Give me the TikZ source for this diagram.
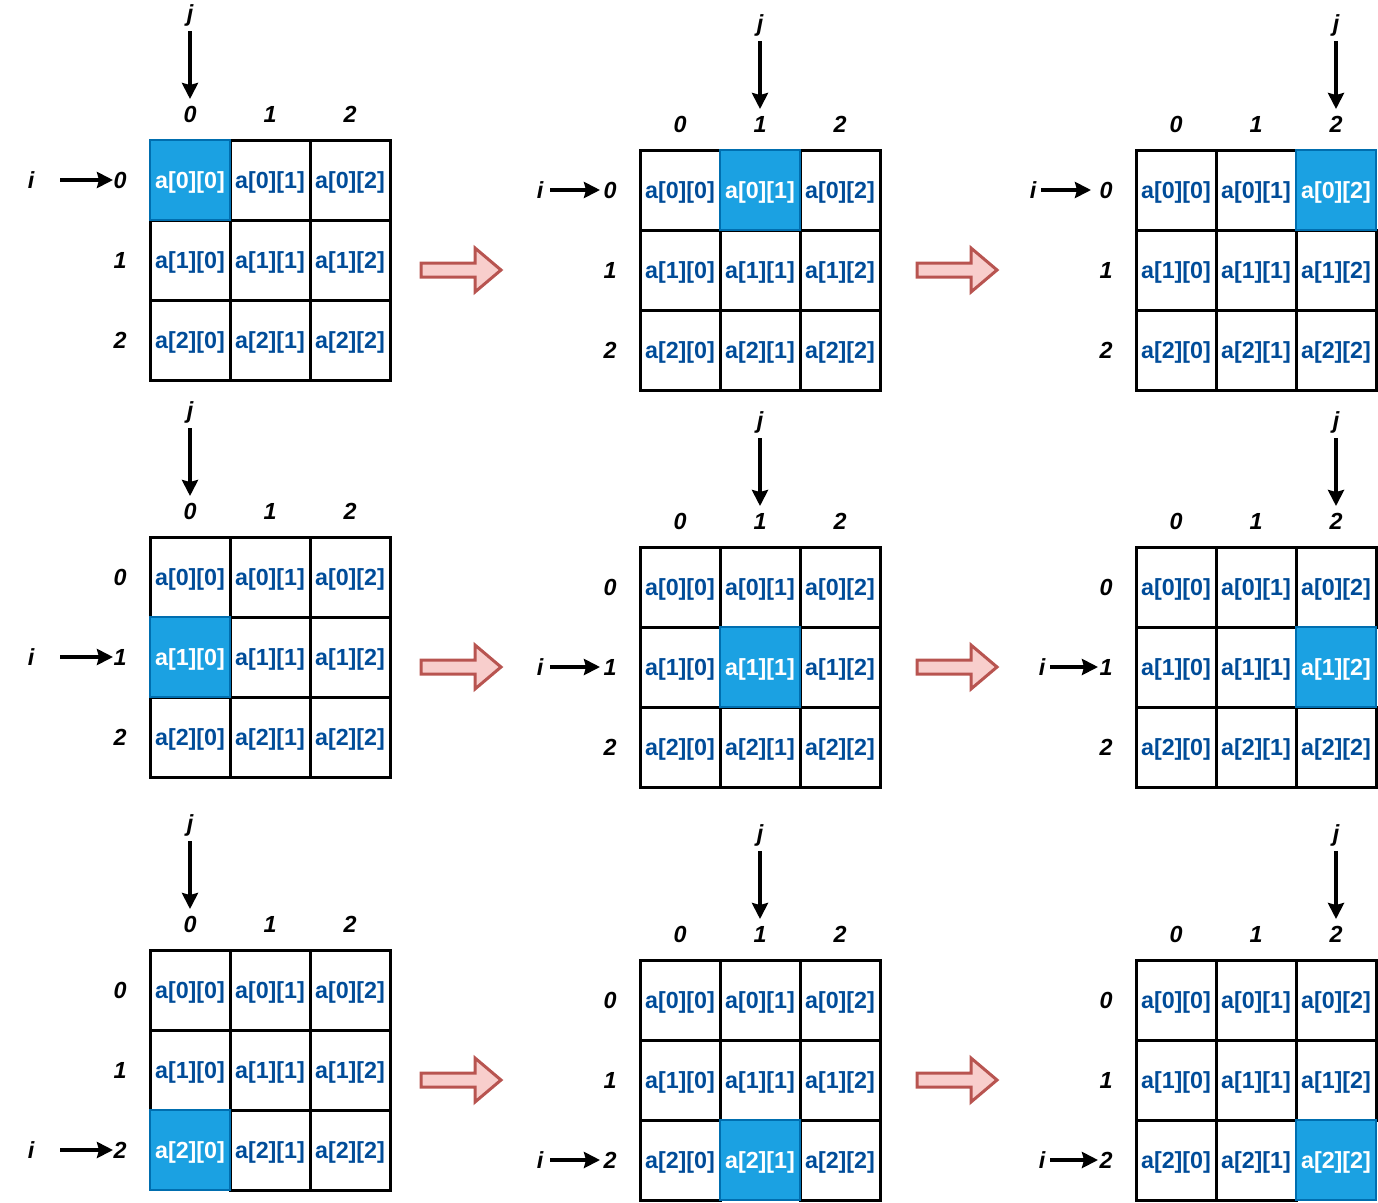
\documentclass[tikz,border=0pt]{standalone}
\usepackage{fontspec}
\setmainfont{Liberation Sans}
\usepackage{tikz}
\usetikzlibrary{arrows.meta}
\definecolor{cellblue}{HTML}{1BA1E2}
\definecolor{celledge}{HTML}{006EAF}
\definecolor{txtblue}{HTML}{004C99}
\definecolor{flowfill}{HTML}{F8CECC}
\definecolor{flowdraw}{HTML}{B85450}
\tikzset{
  cell/.style={draw, line width=3pt, minimum size=80pt, inner sep=0pt, text=txtblue,
    text depth=0pt, font=\fontsize{23.3}{28}\selectfont\bfseries},
  active/.style={fill=cellblue, draw=celledge, line width=1.5pt, text=white},
  idx/.style={inner sep=0pt, font=\fontsize{23.3}{28}\selectfont\bfseries\itshape},
  ptr/.style={line width=3.5pt, -{Stealth[length=16pt, width=16pt, inset=2pt]}},
  flow/.pic={\draw[line width=3pt, draw=flowdraw, fill=flowfill]
    (0,-7) -- (54,-7) -- (54,-22) -- (80,0) -- (54,22) -- (54,7) -- (0,7) -- cycle;}
}
\begin{document}
\begin{tikzpicture}[x=1pt, y=-1pt]
  \useasboundingbox (0,0) rectangle (1378,1202);
  \foreach \g/\gx/\gy/\ai/\aj/\io/\ss/\se in {
      1/150/140/0/0/119/29/7, 2/640/150/0/1/100/10/10, 3/1136/150/0/2/103/8/15,
      4/150/537/1/0/119/29/7, 5/640/547/1/1/100/10/10, 6/1136/547/1/2/94/8/8,
      7/150/950/2/0/119/29/7, 8/640/960/2/1/100/10/10, 9/1136/960/2/2/94/8/8} {
    \foreach \r in {0,1,2} \foreach \c in {0,1,2} {
      \ifnum\numexpr3*\r+\c\relax=\numexpr3*\ai+\aj\relax\else
        \node[cell] (g\g-\r\c) at (\gx+40+80*\c, \gy+40+80*\r) {a[\r][\c]};
      \fi
    }
    \node[cell, active] (g\g-\ai\aj) at (\gx+40+80*\aj, \gy+40+80*\ai) {a[\ai][\aj]};
    \foreach \k in {0,1,2} {
      \node[idx] (g\g-c\k) at (\gx+40+80*\k, \gy-26) {\k};
      \node[idx] (g\g-r\k) at (\gx-30, \gy+40+80*\k) {\k};
    }
    \node[idx] (g\g-j) at (\gx+40+80*\aj, \gy-125) {j};
    \node[idx] (g\g-i) at (\gx-\io, \gy+40+80*\ai) {i};
    \draw[ptr, shorten <=16pt, shorten >=15pt] (g\g-j.center) -- (g\g-c\aj.center);
    \draw[ptr, shorten <=\ss pt, shorten >=\se pt] (g\g-i.center) -- (g\g-r\ai.center);
  }
  \foreach \fy in {270,667,1080} {
    \pic at (421,\fy) {flow};
    \pic at (917,\fy) {flow};
  }
\end{tikzpicture}
\end{document}
